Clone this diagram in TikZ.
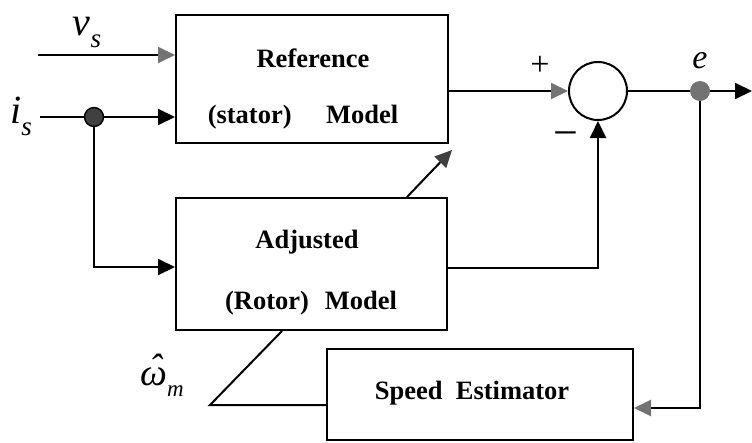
\documentclass[tikz,border=0pt]{standalone}
\usepackage{fontspec}
\setmainfont{Liberation Serif}
\usetikzlibrary{arrows.meta}
\newcommand{\omhatsym}{\ooalign{ω\cr\hidewidth\kern0.12em\raisebox{0.12em}{ˆ}\hidewidth\cr}}
\begin{document}
\begin{tikzpicture}[x=1pt,y=-1pt,
  box/.style={draw, line width=2pt, inner sep=0pt},
  lbl/.style={font=\fontsize{26.5}{30}\selectfont\bfseries, inner sep=0pt},
  sym/.style={font=\fontsize{40}{42}\selectfont\itshape, inner sep=0pt},
  wire/.style={line width=2pt},
  blk/.style={wire, -{Triangle[length=17pt,width=16pt]}},
  gry/.style={wire, -{Triangle[length=17pt,width=16pt,color=black!55]}},
  dgry/.style={wire, -{Triangle[length=17pt,width=16pt,color=black!75]}}]
\useasboundingbox[fill=white] (0,0) rectangle (752,442);

% blocks
\node[box, minimum width=272pt, minimum height=128pt] (ref) at (312,79) {};
\node[box, minimum width=271pt, minimum height=132pt] (adj) at (311.5,264) {};
\node[box, minimum width=306pt, minimum height=91pt] (spd) at (480,394.5) {};
\node[draw, circle, line width=2pt, minimum size=58pt, inner sep=0pt] (sum) at (598,91) {};

% block texts
\node[lbl] (reft1) at (313,58) {Reference};
\node[lbl] (reft2) at (303,117) {(stator)\hspace{1.3em}Model};
\node[lbl] (adjt1) at (307,242) {Adjusted};
\node[lbl] (adjt2) at (311,303) {(Rotor)\hspace{0.6em}Model};
\node[lbl] (spdt) at (472,393) {Speed\hspace{0.5em}Estimator};

% signal labels
\node[sym, anchor=base] (vs) at (87,35) {v\raisebox{-0.3em}{\fontsize{27}{28}\selectfont s}};
\node[sym, anchor=base] (is) at (21,123) {i\raisebox{-0.3em}{\fontsize{27}{28}\selectfont s}};
\node[sym, anchor=base, font=\fontsize{34}{36}\selectfont\itshape] (el) at (700,68) {e};
\node[sym, anchor=base, font=\fontsize{38}{40}\selectfont\itshape] (om) at (162,385) {\omhatsym\raisebox{-0.3em}{\fontsize{23}{24}\selectfont m}};
\node[inner sep=0pt, font=\fontsize{34}{34}\selectfont] (plus) at (540,66) {+};
\node[inner sep=0pt, font=\fontsize{44}{44}\selectfont] (minus) at (566,140) {−};

% junction dots
\node[circle, draw, line width=1.4pt, fill=black!75, minimum size=19pt, inner sep=0pt] (d1) at (94,117) {};
\node[circle, fill=black!55, minimum size=20pt, inner sep=0pt] (edot) at (700,91) {};

% free ends
\coordinate (vin) at (38,55);
\coordinate (iin) at (40,117);
\coordinate (out) at (752,91);
\coordinate (kink) at (210,405);
\coordinate (diagtip) at (452,150);

% connectors
\draw[gry] (vin) -- (vin -| ref.west);
\draw[wire] (iin) -- (d1);
\draw[blk] (d1) -- (d1 -| ref.west);
\draw[blk] (d1) |- ([yshift=-3pt]adj.west);
\draw[gry] (sum.west -| ref.east) -- (sum.west);
\draw[blk] ([yshift=-4pt]adj.east) -| (sum.south);
\draw[wire] (sum.east) -- (edot);
\draw[blk] (edot) -- (out);
\draw[gry] (edot) |- ([yshift=-13.5pt]spd.east);
\draw[wire] ([yshift=-10.5pt]spd.west) -- (kink) -- ([xshift=-29.5pt]adj.south);
\draw[dgry] ([xshift=95.5pt]adj.north) -- (diagtip);
\end{tikzpicture}
\end{document}
